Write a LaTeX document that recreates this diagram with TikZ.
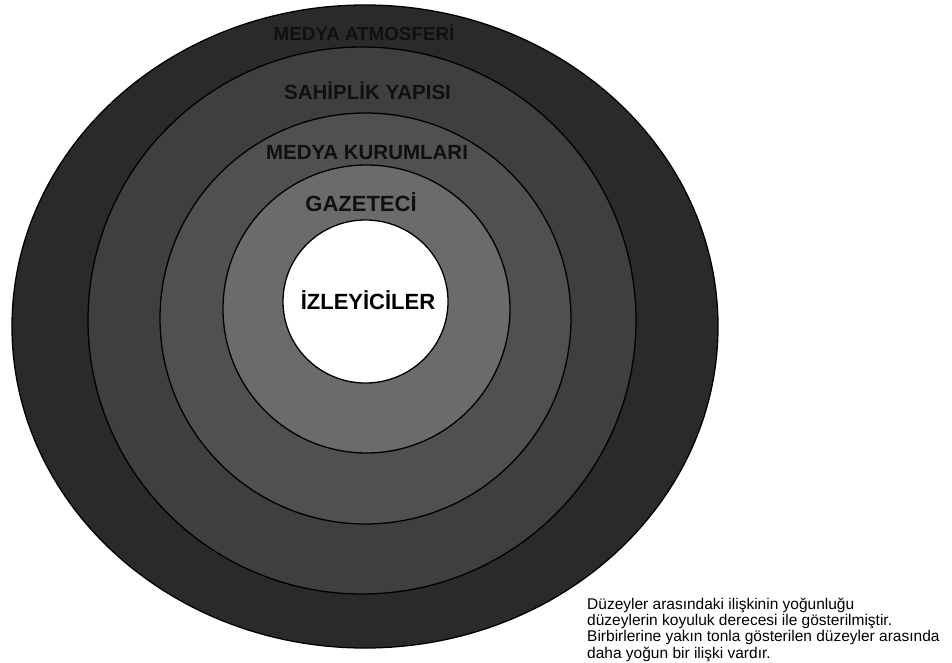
\documentclass[tikz,border=0pt]{standalone}
\usepackage{fontspec}
\setmainfont{Liberation Sans}
\usepackage{xcolor}
\definecolor{ring-a}{HTML}{2A2A2A}
\definecolor{ring-b}{HTML}{3F3F3F}
\definecolor{ring-c}{HTML}{505050}
\definecolor{ring-d}{HTML}{6B6B6B}
\definecolor{label-dark}{HTML}{101010}
\tikzset{
    ring/.style = {draw=black, line width=1.3pt},
    ring-label/.style = {text=label-dark, font=\bfseries\fontsize{20.5}{24}\selectfont, inner sep=0pt},
    note-text/.style = {align=left, inner sep=0pt, font=\fontsize{15.5}{16.4}\selectfont},
}

\begin{document}
\begin{tikzpicture}[x=1pt, y=-1pt]
\useasboundingbox (0,0) rectangle (952,663);
% rings, outside in
\filldraw [ring, fill=ring-a] (365,326.5) ellipse [x radius=353, y radius=321.5];
\filldraw [ring, fill=ring-b] (362,320.5) ellipse [x radius=274, y radius=273.5];
\filldraw [ring, fill=ring-c] (365.5,318.5) ellipse [x radius=205.5, y radius=205.5];
\filldraw [ring, fill=ring-d] (366.5,309) ellipse [x radius=143.5, y radius=144];
\filldraw [ring, fill=white] (365.5,301.5) ellipse [x radius=82.5, y radius=81.5];
% labels
\node [ring-label, font=\bfseries\fontsize{18.8}{22}\selectfont] (atmosfer) at (364,32.8) {MEDYA ATMOSFERİ};
\node [ring-label] (sahiplik) at (367.5,91) {SAHİPLİK YAPISI};
\node [ring-label] (kurumlar) at (367,153) {MEDYA KURUMLARI};
\node [ring-label, font=\bfseries\fontsize{22}{26}\selectfont] (gazeteci) at (361,202) {GAZETECİ};
\node [ring-label, text=black, font=\bfseries\fontsize{22}{26}\selectfont] (izleyici) at (368,300) {İZLEYİCİLER};
\node [note-text, anchor=north west] (note) at (587,597.5) {Düzeyler arasındaki ilişkinin yoğunluğu\\
    düzeylerin koyuluk derecesi ile gösterilmiştir.\\
    Birbirlerine yakın tonla gösterilen düzeyler arasında\\
    daha yoğun bir ilişki vardır.};
\end{tikzpicture}
\end{document}
